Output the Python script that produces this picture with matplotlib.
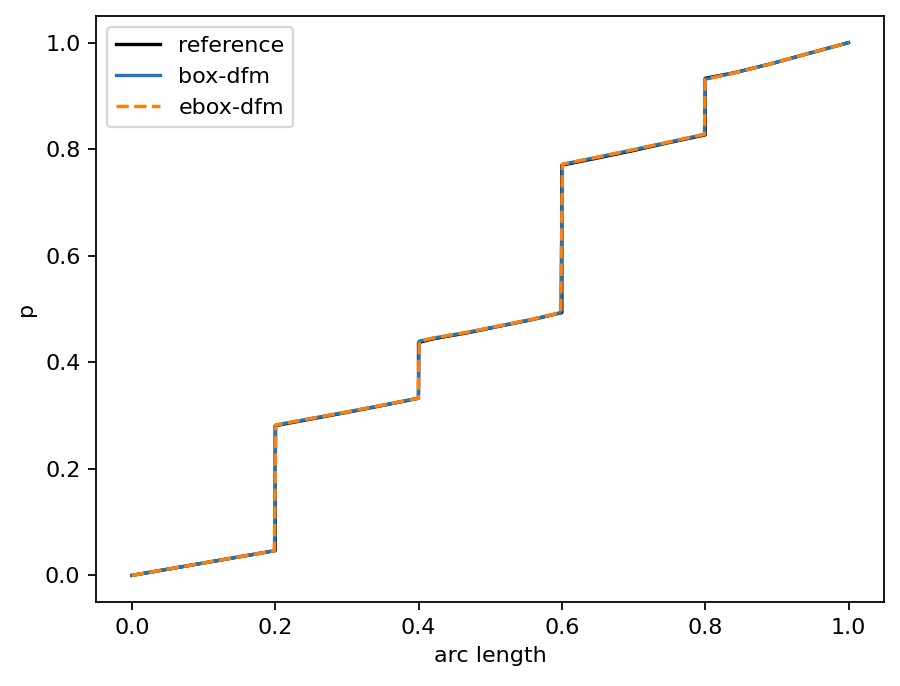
import numpy as np
import matplotlib
matplotlib.use("Agg")
import matplotlib.pyplot as plt

# profils de pression le long de la ligne
s_ref = [0.0, 0.200, 0.200, 0.250, 0.300, 0.350, 0.400, 0.400, 0.420, 0.467, 0.514, 0.560, 0.600,
         0.600, 0.650, 0.700, 0.750, 0.800, 0.800, 0.839, 0.891, 0.942, 1.0]
p_ref = [0.0, 0.0464, 0.2810, 0.2935, 0.3060, 0.3190, 0.3325, 0.4370, 0.4440, 0.4550, 0.4680, 0.4805, 0.4932,
         0.7700, 0.7835, 0.7975, 0.8125, 0.8268, 0.9330, 0.9430, 0.9600, 0.9788, 1.0]

s_box = [0.0, 0.199, 0.2008, 0.250, 0.300, 0.350, 0.3997, 0.401, 0.4206, 0.467, 0.5136, 0.560, 0.5985,
         0.6008, 0.650, 0.700, 0.750, 0.799, 0.800, 0.839, 0.8906, 0.9418, 1.0]
p_box = [0.0, 0.0464, 0.2823, 0.2945, 0.3068, 0.3195, 0.3325, 0.4396, 0.4455, 0.4560, 0.4685, 0.4810, 0.4932,
         0.7717, 0.7850, 0.7990, 0.8135, 0.8278, 0.9313, 0.9426, 0.9600, 0.9788, 1.0]

s_ebox = s_box
p_ebox = p_box

fig, ax = plt.subplots(figsize=(5.625, 4.2875), dpi=160)
fig.subplots_adjust(left=0.1067, right=0.9826, bottom=0.1224, top=0.9767)

ax.plot(s_ref, p_ref, color='k', label='reference')
ax.plot(s_box, p_box, color='C0', label='box-dfm')
ax.plot(s_ebox, p_ebox, color='C1', linestyle='--', label='ebox-dfm')

ax.set_xlabel("arc length")
ax.set_ylabel("p")
ax.legend(loc='upper left')

fig.savefig("out.png", dpi=160)
